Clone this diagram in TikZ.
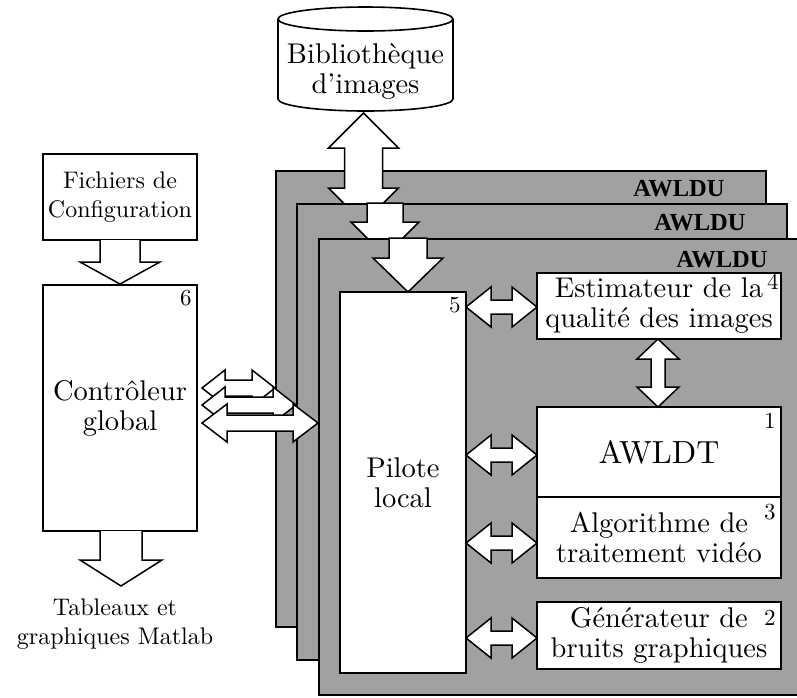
\documentclass[tikz,border=0pt]{standalone}
\usepackage{fontspec}
\setmainfont{lmroman10-regular}[Extension=.otf, BoldFont=lmroman10-bold]
\newfontfamily\lblfont{Liberation Serif}
\newcommand{\dblH}[6]{% left tip x, right tip x, centre y, head length, head half, shaft half
  \draw[blk] (#1,#3) -- ({#1+#4},{#3-#5}) -- ({#1+#4},{#3-#6}) -- ({#2-#4},{#3-#6}) -- ({#2-#4},{#3-#5}) -- (#2,#3)
    -- ({#2-#4},{#3+#5}) -- ({#2-#4},{#3+#6}) -- ({#1+#4},{#3+#6}) -- ({#1+#4},{#3+#5}) -- cycle;}
\newcommand{\dblV}[6]{% top tip y, bottom tip y, centre x, head length, head half, shaft half
  \draw[blk] (#3,#1) -- ({#3+#5},{#1+#4}) -- ({#3+#6},{#1+#4}) -- ({#3+#6},{#2-#4}) -- ({#3+#5},{#2-#4}) -- (#3,#2)
    -- ({#3-#5},{#2-#4}) -- ({#3-#6},{#2-#4}) -- ({#3-#6},{#1+#4}) -- ({#3-#5},{#1+#4}) -- cycle;}
\begin{document}
\begin{tikzpicture}[x=1pt,y=-1pt,
  layer/.style={draw, line width=1.8pt, fill=black!37, minimum width=490pt, minimum height=456pt, anchor=north west, inner sep=0pt},
  box/.style={draw, line width=1.6pt, fill=white, inner sep=0pt},
  blk/.style={draw, line width=1.5pt, fill=white, line join=miter},
  big/.style={font=\fontsize{28.5}{30}\selectfont, align=center, inner sep=0pt},
  mid/.style={font=\fontsize{24}{29}\selectfont, align=center, inner sep=0pt},
  num/.style={font=\fontsize{23}{23}\selectfont, anchor=north east, inner sep=0pt},
  lbl/.style={font=\lblfont\bfseries\fontsize{24.5}{24.5}\selectfont, anchor=east, inner sep=0pt}]
\clip (0,0) rectangle (797,697);
% left column
\node[box, mid, minimum width=154pt, minimum height=86pt] (fich) at (120,197) {Fichiers de\\Configuration};
\node[box, big, minimum width=154pt, minimum height=246pt] (ctrl) at (120,408) {Contrôleur\\global};
\node[num] (n6) at ([xshift=-6pt,yshift=-6pt]ctrl.north east) {6};
\draw[blk] (100,240) -- (100,262) -- (80,262) -- (120,284) -- (160,262) -- (140,262) -- (140,240);
\draw[blk] (100,531) -- (100,560) -- (80,560) -- (121,586) -- (162,560) -- (142,560) -- (142,531);
\node[mid] (tab) at (115,624) {Tableaux et\\graphiques Matlab};
% image library
\draw[box] (278,19) -- (278,99) arc[start angle=180, end angle=0, x radius=87.5, y radius=12] -- (453,19);
\draw[box] (365.5,19) ellipse [x radius=87.5, y radius=12];
\node[big] (bib) at (365.5,71) {Bibliothèque\\d’images};
% layer 1
\node[layer] (L1) at (275,170) {};
\node[lbl] (t1) at ([xshift=-42pt,yshift=-19pt]L1.north east) {AWLDU};
\dblH{202}{275}{388}{23}{18}{8}
\draw[blk] (363.5,113) -- (398.5,148) -- (382.5,148) -- (382.5,188) -- (398.5,188) -- (363.5,223)
  -- (328.5,188) -- (344.5,188) -- (344.5,148) -- (328.5,148) -- cycle;
% layer 2
\node[layer] (L2) at (296,203) {};
\node[lbl] (t2) at ([xshift=-42pt,yshift=-20pt]L2.north east) {AWLDU};
\dblH{202}{296}{405}{23}{18}{8}
\draw[blk] (367,203) -- (367,222) -- (351,222) -- (385,256) -- (419,222) -- (403,222) -- (403,203) -- cycle;
% layer 3
\node[layer] (L3) at (318,238) {};
\node[lbl] (t3) at ([xshift=-42pt,yshift=-22pt]L3.north east) {AWLDU};
\dblH{202}{318}{423}{25}{19}{8}
\draw[blk] (389,238) -- (389,258) -- (373,258) -- (408,292) -- (443,258) -- (427,258) -- (427,238) -- cycle;
% inner blocks
\node[box, big, minimum width=126pt, minimum height=381pt] (pil) at (403,482.5) {Pilote\\local};
\node[num] (n5) at ([xshift=-6pt,yshift=-6pt]pil.north east) {5};
\node[box, big, minimum width=244pt, minimum height=66pt] (est) at (659,306) {Estimateur de la\\qualité des images};
\node[num] (n4) at ([xshift=-3pt,yshift=-2pt]est.north east) {4};
\node[box, font=\fontsize{32}{32}\selectfont, minimum width=244pt, minimum height=90pt] (awldt) at (659,452) {AWLDT};
\node[num] (n1) at ([xshift=-6pt,yshift=-7pt]awldt.north east) {1};
\node[box, big, minimum width=244pt, minimum height=81pt] (algo) at (659,537.5) {Algorithme de\\traitement vidéo};
\node[num] (n3) at ([xshift=-6pt,yshift=-8pt]algo.north east) {3};
\node[box, big, minimum width=244pt, minimum height=67pt] (gen) at (659,635.5) {Générateur de\\bruits graphiques};
\node[num] (n2) at ([xshift=-6pt,yshift=-9pt]gen.north east) {2};
% connectors
\dblH{466}{537}{307}{25}{20}{7}
\dblH{466}{537}{455}{25}{20}{7}
\dblH{466}{537}{543}{25}{20}{7}
\dblH{466}{537}{638}{25}{20}{7}
\dblV{339}{407}{658}{20}{21}{7}
\end{tikzpicture}
\end{document}
